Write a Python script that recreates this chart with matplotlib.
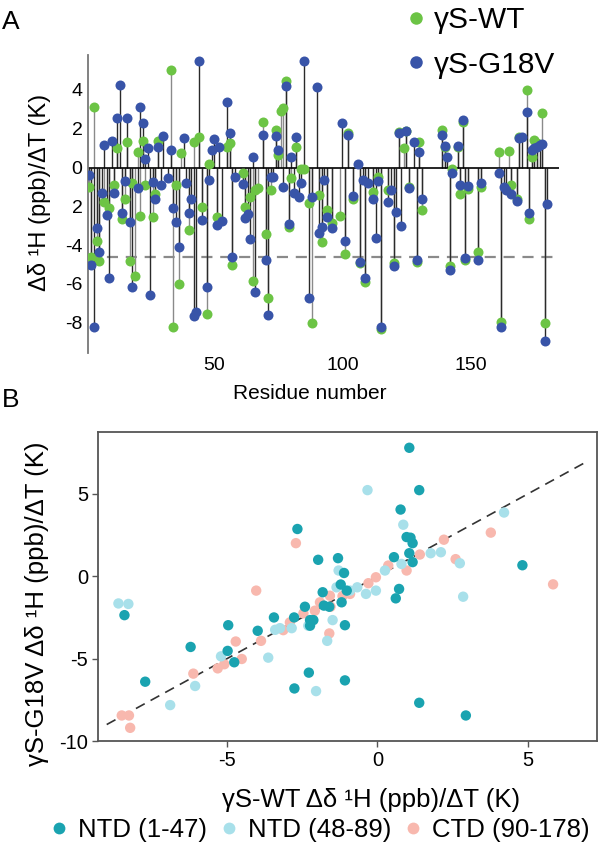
import matplotlib
matplotlib.use("Agg")
import matplotlib.pyplot as plt
from matplotlib.lines import Line2D

plt.rcParams['font.family'] = ['Liberation Sans', 'DejaVu Sans']
plt.rcParams['axes.unicode_minus'] = False

# ---------------- Panel A data ----------------
wt_res = [1, 2, 3, 4, 5, 7, 9, 11, 12, 14, 15, 16, 17, 18, 19, 20, 21, 22, 23, 26, 27, 28,
          33, 34, 35, 36, 37, 40, 42, 44, 45, 47, 48, 51, 55, 56, 57, 61, 62, 64, 65, 66,
          67, 69, 70, 71, 72, 74, 75, 76, 77, 78, 79, 80, 82, 84, 85, 87, 88, 91, 92, 94,
          96, 99, 101, 102, 104, 107, 109, 112, 114, 115, 118, 120, 122, 124, 125, 126,
          129, 130, 131, 139, 140, 142, 143, 145, 146, 147, 148, 149, 153, 154, 161, 162,
          165, 166, 168, 169, 172, 173, 174, 175, 176, 178, 179]
wt_val = [-1.0, -4.6, 3.13, -3.8, -4.8, -1.8, -2.07, -0.9, 1.0, -2.65, -1.6, 1.3, -4.8, -0.8,
          -5.6, 0.8, -2.5, 1.37, -0.9, -2.55, -1.35, 1.37, 5.03, -8.2, -0.9, -6.0, 0.73, -3.23,
          1.33, 1.58, -2.02, -7.55, 0.2, -2.55, 1.07, 1.24, -5.03, -0.3, -2.02, -1.5, -5.84,
          -1.16, -1.07, 2.36, -3.4, -6.7, -1.16, 1.93, 0.67, 2.9, 3.05, 4.45, -3.05, -0.55,
          1.07, -0.05, -0.1, -1.85, -8.03, -1.42, -3.82, -2.2, -2.88, -2.48, -4.46, 1.77,
          -1.64, -4.94, -5.88, -1.25, -0.48, -8.3, -1.16, -4.9, 1.85, 0.99, 1.9, -0.99, -4.86,
          1.32, -2.19, 1.93, 1.07, -5.08, -0.05, 1.07, -1.37, 2.35, -4.77, -1.13, -4.35,
          -0.99, 0.81, -7.95, 0.86, -0.9, -1.64, 1.58, 4.0, -2.67, 0.52, 1.4, 1.27, 2.8, -8.03]

g18v_res = [1, 2, 3, 4, 5, 6, 7, 8, 9, 10, 11, 12, 13, 14, 15, 16, 17, 18, 20, 21, 22, 23, 24,
            25, 26, 27, 28, 29, 30, 32, 33, 34, 35, 36, 38, 39, 40, 41, 42, 43, 44, 45, 47,
            48, 49, 50, 51, 52, 53, 55, 56, 57, 58, 61, 62, 63, 64, 65, 66, 69, 70, 71, 72,
            73, 74, 75, 77, 78, 79, 80, 81, 82, 83, 84, 85, 87, 88, 90, 91, 92, 93, 94, 96,
            100, 101, 102, 104, 106, 107, 108, 109, 110, 112, 113, 114, 115, 118, 119, 120,
            121, 122, 123, 125, 126, 128, 129, 130, 131, 139, 140, 141, 142, 143, 145, 146,
            147, 148, 149, 153, 154, 161, 162, 163, 164, 166, 168, 169, 170, 172, 173, 174,
            175, 176, 177, 178, 179, 180]
g18v_val = [-0.39, -5.0, -8.24, -3.1, -4.33, -1.3, 1.16, -2.45, -5.7, 1.37, -1.3, 2.57, 4.25,
            -2.34, -0.7, 2.57, -2.8, -6.15, -1.05, 3.13, 2.3, 0.46, 1.0, -6.55, -0.75, -1.6,
            1.07, -0.9, 1.6, -0.55, 0.9, -2.1, -2.8, -4.1, 1.5, -0.78, -2.33, -1.64, -7.65,
            -7.45, 5.5, -2.71, -6.17, -0.65, 0.9, 1.45, -2.94, 1.07, -2.76, 3.39, 1.78, -4.6,
            -0.5, -0.85, -2.62, -2.41, -3.69, 0.55, -6.4, 1.67, -4.74, -7.6, -0.5, -0.5, 1.62,
            0.88, -0.99, 4.2, -2.93, 0.55, -1.33, 1.56, -1.5, -0.78, 5.5, -6.7, -1.5, 4.17,
            -3.36, -3.05, -0.65, -2.53, -3.14, 2.28, -3.77, 1.68, -1.47, 0.18, -4.85, -0.64,
            -5.71, -0.82, -1.64, -3.65, -0.7, -8.2, -1.76, -1.16, -5.07, -2.28, 1.76, -3.0,
            1.9, -1.08, 1.32, -4.74, 0.8, -1.64, 1.67, 1.11, 0.55, -5.28, -0.27, 1.11, -0.9,
            2.45, -4.68, -0.96, -4.74, -0.78, -0.27, -8.2, -0.99, -1.16, -1.37, -1.72, 1.5,
            1.58, 2.88, -2.36, 0.9, 1.0, 1.07, 1.16, 1.21, -8.95, -1.88]

threshold = -4.6
a_yticks = [-8, -6, -4, -2, 0, 2, 4]
a_yticklabels = ['-8', '-6', '-4', '2', '0', '2', '4']
a_xticks = [50, 100, 150]

# ---------------- Panel B data ----------------
ntd1_wt = [-8.41, -7.72, -6.21, -4.98, -4.96, -4.76, -3.98, -3.44, 1.06, 1.39, 0.77, 0.97, 1.1,
           1.17, -2.66, -1.97, -1.31, -1.11, -1.22, -1.02, -1.82, -1.6, -1.19, 0.55, 1.17, 1.06,
           0.72, 0.61, -2.41, -2.77, -2.24, -2.13, -2.24, -1.08, -2.28, -2.76, -1.08, 1.39,
           -1.78, 4.82, 2.94]
ntd1_g18v = [-2.36, -6.4, -4.29, -4.53, -2.97, -5.22, -3.31, -2.5, 7.8, 5.23, 4.05, 2.38, 2.34,
             2.01, 2.87, 1.0, 1.1, 0.2, -0.5, -0.87, -0.97, -1.85, -1.58, 1.16, 0.86, 1.4,
             -0.77, -1.34, -1.85, -2.5, -2.66, -2.66, -3.0, -2.97, -5.85, -6.81, -6.32, -7.68,
             -1.78, 0.67, -8.45]

ntd2_wt = [-8.61, -8.28, -6.89, -6.06, -5.2, -3.63, -3.4, -0.33, 0.86, -1.29, -1.36, -0.91,
           -0.67, -0.38, -0.05, 0.25, 0.8, 1.77, 2.11, -2.85, -3.24, -2.3, -1.49, -1.67, -2.04,
           4.21, 2.74, 2.85]
ntd2_g18v = [-1.65, -1.68, -7.82, -6.66, -4.86, -4.94, -3.25, 5.23, 3.13, 0.35, -0.67, -0.87,
             -0.67, -1.07, -0.87, 0.35, 0.75, 1.4, 1.46, -3.15, -3.15, -3.0, -2.66, -3.92,
             -6.97, 3.87, 0.79, -1.24]

ctd_wt = [-8.5, -8.26, -8.22, -6.12, -5.31, -5.09, -4.71, -4.51, -4.03, -3.87, -2.71, -1.58,
          -1.56, -1.16, -0.3, -0.05, 0.36, 0.97, 1.41, 2.21, -2.91, -3.13, -2.46, -2.08, -1.6,
          -1.91, -0.91, 3.77, 5.84, 2.6]
ctd_g18v = [-8.45, -8.45, -9.2, -5.91, -5.59, -5.34, -3.96, -5.02, -0.87, -3.92, 2.01, -1.18,
            -1.85, -1.2, -0.42, -0.06, 0.65, 0.35, 1.32, 2.22, -2.8, -3.27, -2.25, -2.09, -3.47,
            -1.58, -1.07, 2.65, -0.49, 1.04]

diag = [-9.0, 7.0]
b_ticks = [-10, -5, 0, 5]

# ---------------- colours ----------------
c_wt = '#6CC445'
c_g18v = '#3854A8'
c_ntd1 = '#1AA3B0'
c_ntd2 = '#A8E0EA'
c_ctd = '#F8B8AE'

fig = plt.figure(figsize=(6.0, 8.49), dpi=100)

# ---------------- Panel A ----------------
axA = fig.add_axes([0.1467, 0.5842, 0.785, 0.3510])
axA.vlines(wt_res, 0, wt_val, colors='#8a8a8a', lw=1.0, zorder=1)
axA.vlines(g18v_res, 0, g18v_val, colors='#2a2a2a', lw=1.0, zorder=1)
axA.axhline(threshold, color='#8a8a8a', lw=1.6, dashes=(5, 3.5), zorder=0)
axA.axhline(0, color='black', lw=1.2, zorder=2)
axA.plot(wt_res, wt_val, 'o', color=c_wt, ms=7.2, mec='none', zorder=3)
axA.plot(g18v_res, g18v_val, 'o', color=c_g18v, ms=7.2, mec='none', zorder=4)
axA.set_xlim(0.66, 184.6)
axA.set_ylim(-9.56, 5.8)
for s in ['top', 'right', 'bottom']:
    axA.spines[s].set_visible(False)
axA.spines['left'].set_color('#777777')
axA.spines['left'].set_linewidth(1.3)
axA.set_yticks(a_yticks)
axA.set_yticklabels(a_yticklabels)
axA.set_xticks(a_xticks)
axA.tick_params(axis='both', length=0, labelsize=14, pad=4)
axA.tick_params(axis='x', pad=3)
axA.set_xlabel('Residue number', fontsize=15)
axA.xaxis.set_label_coords(0.471, -0.105)
axA.set_ylabel('Δδ ¹H (ppb)/ΔT (K)', fontsize=17)
axA.yaxis.set_label_coords(-0.078, 0.54)

leg_handles = [Line2D([], [], ls='none', marker='o', color=c_wt, ms=9, mec='none'),
               Line2D([], [], ls='none', marker='o', color=c_g18v, ms=9, mec='none')]
fig.legend(leg_handles, ['γS-WT', 'γS-G18V'], loc='upper left',
           bbox_to_anchor=(0.659, 1.0065), frameon=False, fontsize=21.5,
           handlelength=0.6, handletextpad=0.3, labelspacing=0.55, borderaxespad=0)

fig.text(0.003, 0.974, 'A', fontsize=19, ha='left', va='center')
fig.text(0.003, 0.529, 'B', fontsize=19, ha='left', va='center')

# ---------------- Panel B ----------------
axB = fig.add_axes([0.1628, 0.1272, 0.8322, 0.3640])
axB.plot(diag, diag, color='#333333', lw=1.2, dashes=(6, 4), zorder=1)
axB.scatter(ctd_wt, ctd_g18v, s=56, color=c_ctd, edgecolors='none', zorder=2)
axB.scatter(ntd2_wt, ntd2_g18v, s=56, color=c_ntd2, edgecolors='none', zorder=3)
axB.scatter(ntd1_wt, ntd1_g18v, s=56, color=c_ntd1, edgecolors='none', zorder=4)
axB.set_xlim(-9.3, 7.3)
axB.set_ylim(-10.0, 8.76)
axB.set_xticks([-5, 0, 5])
axB.set_yticks(b_ticks)
for s in axB.spines.values():
    s.set_color('#555555')
    s.set_linewidth(1.3)
axB.tick_params(axis='both', length=4, width=1, color='#555555', labelsize=14.5, pad=3)
axB.set_xlabel('γS-WT Δδ ¹H (ppb)/ΔT (K)', fontsize=18.5)
axB.xaxis.set_label_coords(0.547, -0.153)
axB.set_ylabel('γS-G18V Δδ ¹H (ppb)/ΔT (K)', fontsize=18.5)
axB.yaxis.set_label_coords(-0.098, 0.443)

leg2_handles = [Line2D([], [], ls='none', marker='o', color=c_ntd1, ms=8.5, mec='none'),
                Line2D([], [], ls='none', marker='o', color=c_ntd2, ms=8.5, mec='none'),
                Line2D([], [], ls='none', marker='o', color=c_ctd, ms=8.5, mec='none')]
fig.legend(leg2_handles, ['NTD (1-47)', 'NTD (48-89)', 'CTD (90-178)'], loc='center',
           bbox_to_anchor=(0.534, 0.022), ncol=3, frameon=False, fontsize=18.5,
           handlelength=0.6, handletextpad=0.45, columnspacing=0.55)

fig.savefig('out.png', dpi=100)
